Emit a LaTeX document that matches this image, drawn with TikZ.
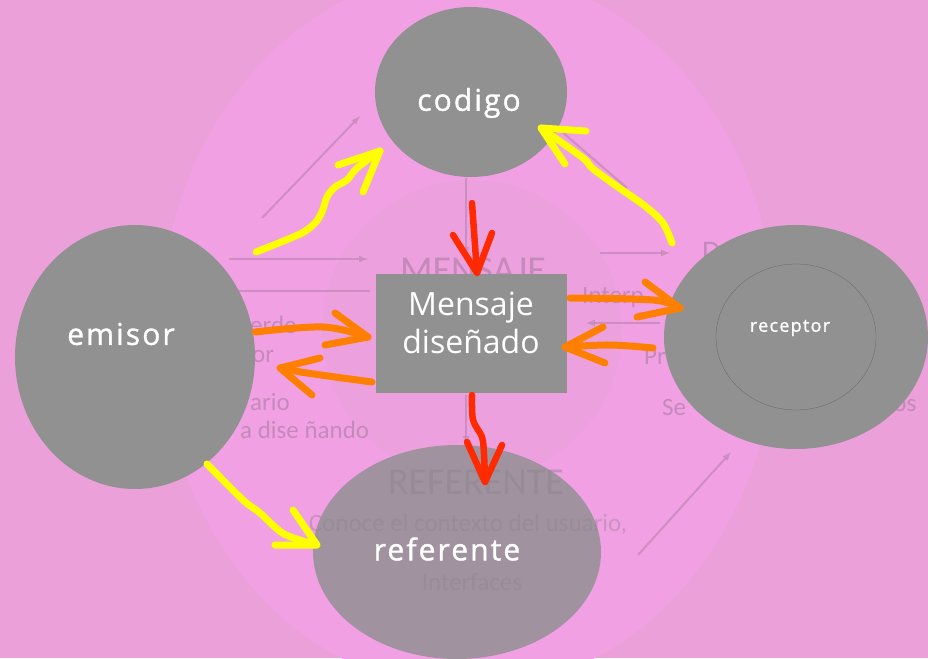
\documentclass[tikz,border=0pt]{standalone}
\usepackage{fontspec}
\setmainfont{Open Sans}
\newfontfamily\labfont[LetterSpace=7,FakeBold=1.2]{Open Sans}
\newfontfamily\faintfont{Carlito}
\usetikzlibrary{shapes.geometric}
\definecolor{bgpink}{HTML}{EBA0DA}
\definecolor{circpink}{HTML}{F1A0E4}
\definecolor{innerpink}{HTML}{EDA0DE}
\definecolor{nodegray}{HTML}{919191}
\definecolor{refgray}{HTML}{A0939F}
\definecolor{faint}{HTML}{C48ABA}
\definecolor{faintgray}{HTML}{8C828C}
\definecolor{yel}{HTML}{FFFF00}
\definecolor{redarr}{HTML}{FF2A00}
\definecolor{orarr}{HTML}{FF7F00}
\tikzset{
  blob/.style={ellipse, fill=nodegray, inner sep=0pt, text=white},
  lab/.style={font=\labfont\fontsize{30}{32}\selectfont, inner sep=0pt},
  stroke/.style={line width=7pt, line cap=round, line join=round},
  yarrow/.style={stroke, draw=yel},
  rarrow/.style={stroke, draw=redarr, line width=6.5pt},
  oarrow/.style={stroke, draw=orarr},
  faintline/.style={draw=faint, line width=2pt, opacity=0.8},
  fainttip/.style={faintline, -latex},
  fainttext/.style={text=faint, inner sep=0pt, font=\faintfont\fontsize{25}{28}\selectfont},
  bigfaint/.style={fainttext, font=\faintfont\fontsize{38}{40}\selectfont}
}
\begin{document}
\begin{tikzpicture}[x=1pt,y=-1pt]
\useasboundingbox (0,0) rectangle (928,658);
\clip (0,0) rectangle (928,658);
\fill[bgpink] (0,0) rectangle (928,658);
\fill[circpink] (468,330) ellipse [x radius=308, y radius=360];
\fill[innerpink] (472,330) circle [radius=150];

% faint background drawing
\draw[fainttip] (262,218) -- (360,116);
\draw[fainttip] (229,259) -- (368,259);
\draw[faintline] (230,291) -- (370,291);
\draw[fainttip] (466,178) -- (466,256);
\draw[faintline] (553,124) -- (627,188);
\draw[fainttip] (600,253) -- (670,253);
\draw[fainttip] (660,323) -- (586,323);
\draw[fainttip] (638,555) -- (731,452);
\draw[fainttip] (466,395) -- (466,445);
\node[bigfaint, anchor=base] (fmens) at (473,282) {MENSAJE};
\node[fainttext, anchor=west] (ferde) at (250,325) {erde};
\node[fainttext, anchor=west] (for) at (252,357) {or};
\node[fainttext, anchor=west] (fario) at (250,402) {ario};
\node[fainttext, anchor=west] (fdis) at (240,430) {a dise ñando};
\node[fainttext, anchor=west] (finter) at (582,297) {Interp};
\node[fainttext, anchor=west] (fpr) at (644,356) {Pr};
\node[fainttext, anchor=west] (fse) at (662,407) {Se};
\node[fainttext, anchor=west] (fpos) at (880,407) {pos};
\node[fainttext, font=\faintfont\fontsize{30}{32}\selectfont, anchor=west] (fd) at (702,252) {D};

% main nodes
\node[blob, minimum width=192pt, minimum height=170pt] (codigo) at (471,92) {};
\node[lab, text=white] (codigot) at (469,103) {codigo};
\node[blob, minimum width=240pt, minimum height=264pt] (emisor) at (135,357) {};
\node[lab, text=white] (emisort) at (121,334) {emisor};
\node[blob, minimum width=264pt, minimum height=224pt] (receptor) at (796,337) {};
\draw[black!60, line width=0.3pt] (796,337) ellipse [x radius=80, y radius=73];
\node[text=white, inner sep=0pt, font=\labfont\fontsize{18}{20}\selectfont] (receptort) at (790,328) {receptor};
\node[blob, fill=refgray, minimum width=288pt, minimum height=214pt] (referente) at (457,552) {};
% faint text shows through the referente ellipse
\node[bigfaint, text=faintgray, opacity=0.45, anchor=base] (fref) at (476,494) {REFERENTE};
\node[fainttext, text=faintgray, opacity=0.4, anchor=base] (fcon) at (468,531) {Conoce el contexto del usuario,};
\node[fainttext, text=faintgray, opacity=0.4, anchor=base] (fint) at (472,590) {Interfaces};
\node[lab, text=white] (referentet) at (447,549) {referente};
\node[fill=nodegray, minimum width=191pt, minimum height=119pt, inner sep=0pt] (mensaje) at (471.5,333) {};
\node[text=white, align=center, inner sep=0pt, font=\fontsize{32}{38}\selectfont] (mensajet) at (471,323) {Mensaje\\diseñado};

% hand drawn arrows
\draw[yarrow] plot[smooth, tension=0.5] coordinates {(256,252) (300,234) (315,223) (322,212) (327,197) (335,187) (347,180) (357,168) (380,151)};
\draw[yarrow] (338,165) -- (380,151) -- (363,192);
\draw[yarrow] plot[smooth, tension=0.5] coordinates {(672,243) (663,223) (645,206) (615,185) (592,168) (583,158) (541,128)};
\draw[yarrow] (586,131) -- (541,128) -- (565,164);
\draw[yarrow] plot[smooth, tension=0.5] coordinates {(207,464) (243,500) (260,513) (284,534) (317,545)};
\draw[yarrow] (275,545) -- (317,545) -- (293,510);

\draw[rarrow] (472,203) -- (477,273);
\draw[rarrow] (453,235) -- (477,273) -- (492,233);
\draw[rarrow] plot[smooth, tension=0.5] coordinates {(472,395) (473,420) (482,437) (484,454) (485,482)};
\draw[rarrow] (467,442) -- (485,482) -- (502,445);

\draw[oarrow] plot[smooth, tension=0.6] coordinates {(255,332) (323,327) (368,337)};
\draw[oarrow] (335,313) -- (368,337) -- (325,345);
\draw[oarrow] plot[smooth, tension=0.6] coordinates {(372,382) (307,373) (280,368)};
\draw[oarrow] (320,358) -- (280,368) -- (312,395);
\draw[oarrow] plot[smooth, tension=0.6] coordinates {(570,298) (653,300) (680,308)};
\draw[oarrow] (645,282) -- (680,308) -- (637,317);
\draw[oarrow] plot[smooth, tension=0.6] coordinates {(653,348) (610,345) (565,347)};
\draw[oarrow] (603,327) -- (565,347) -- (605,363);
\end{tikzpicture}
\end{document}
